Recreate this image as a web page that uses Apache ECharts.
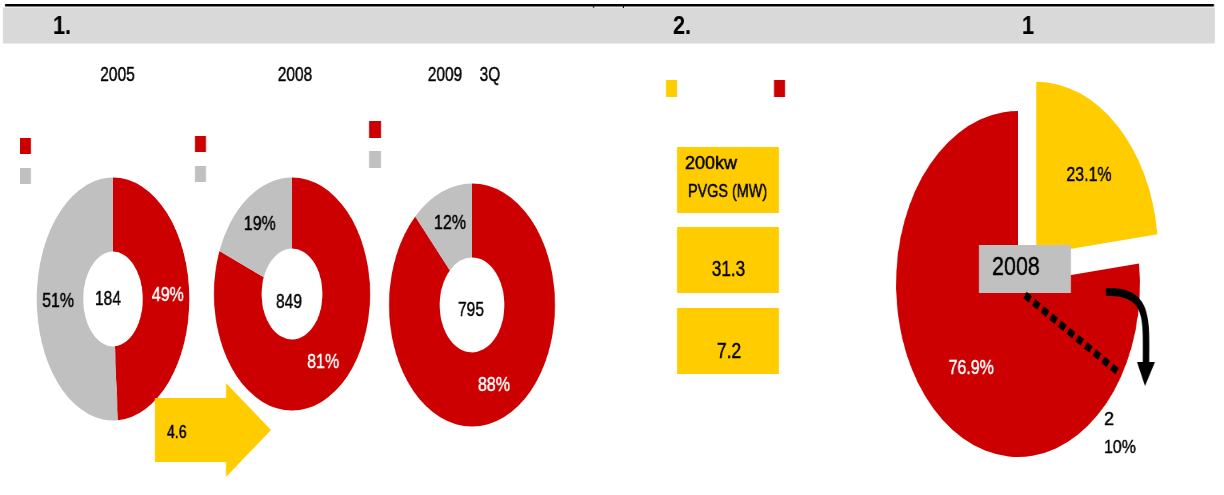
<!DOCTYPE html>
<html>
<head>
<meta charset="utf-8">
<script src="https://cdn.jsdelivr.net/npm/echarts@6/dist/echarts.min.js"></script>
<style>
html,body{margin:0;padding:0;background:#fff;}
#wrap{position:relative;width:1224px;height:495px;overflow:hidden;}
.pie{position:absolute;transform-origin:50% 50%;}
#main{position:absolute;left:0;top:0;height:495px;z-index:10;transform-origin:0 0;}
</style>
</head>
<body>
<div id="wrap">
  <div id="p0" class="pie"></div>
  <div id="p1" class="pie"></div>
  <div id="p2" class="pie"></div>
  <div id="p3" class="pie"></div>
  <div id="main"></div>
</div>
<script>
// ---------- data ----------
const headerLabels = ['1.', '2.', '1'];
const donutYears = ['2005', '2008', '2009', '3Q'];
const donutTotals = ['184', '849', '795'];
const redShare = [49, 81, 88];
const greyShare = [51, 19, 12];
const pieShares = [23.1, 76.9];           // yellow, red
const pieYear = '2008';
const arrowValue = '4.6';
const boxHeader = ['200kw', 'PVGS (MW)'];
const boxValues = ['31.3', '7.2'];
const pieNote = ['2', '10%'];

// ---------- style ----------
const RED = '#CC0000', GREY = '#C0C0C0', YEL = '#FFCC00';
const FONT = "'Liberation Sans', Arial, sans-serif";
const C = 0.8;                 // horizontal squeeze of the text/annotation layer
const X = function (x) { return x / C; };
const BOLDEN = 0.45;           // thin outline to match the heavier source glyphs

// geometry of the elliptical pies (center, vertical radius, horizontal squeeze)
const donutGeo = [
  {cx: 113, cy: 298.5, r: 121.5, s: 0.628},
  {cx: 291.5, cy: 293.5, r: 116.5, s: 0.67},
  {cx: 472, cy: 304.5, r: 121.5, s: 0.683}
];
const bigGeo = {cx: 1018, cy: 284, r: 173, s: 0.705};
const INNER = 0.39;

function placeDiv(id, g, D) {
  const el = document.getElementById(id);
  el.style.left = (g.cx - D / 2) + 'px';
  el.style.top = (g.cy - D / 2) + 'px';
  el.style.width = D + 'px';
  el.style.height = D + 'px';
  el.style.transform = 'scaleX(' + g.s + ')';
  return el;
}

function lbl(color) {
  return {color: color, textBorderColor: color, textBorderWidth: BOLDEN};
}
function donutData(i, transparent) {
  return [
    {name: 'red', value: redShare[i], itemStyle: {color: transparent ? 'rgba(0,0,0,0)' : RED}, label: lbl('#fff')},
    {name: 'grey', value: greyShare[i], itemStyle: {color: transparent ? 'rgba(0,0,0,0)' : GREY}, label: lbl('#000')}
  ];
}
function bigData(transparent) {
  return [
    {name: 'y', value: pieShares[0], selected: true, itemStyle: {color: transparent ? 'rgba(0,0,0,0)' : YEL}, label: lbl('#000')},
    {name: 'r', value: pieShares[1], itemStyle: {color: transparent ? 'rgba(0,0,0,0)' : RED}, label: lbl('#fff')}
  ];
}

// ---------- squeezed pie sectors (one instance per ellipse) ----------
donutGeo.forEach(function (g, i) {
  const chart = echarts.init(placeDiv('p' + i, g, 260));
  chart.setOption({
    animation: false,
    series: [{
      type: 'pie', silent: true, startAngle: 90, clockwise: true,
      center: ['50%', '50%'], radius: [g.r * INNER, g.r],
      label: {show: false}, labelLine: {show: false},
      data: donutData(i, false)
    }]
  });
});
(function () {
  const chart = echarts.init(placeDiv('p3', bigGeo, 470));
  chart.setOption({
    animation: false,
    series: [{
      type: 'pie', silent: true, startAngle: 90, clockwise: true,
      center: ['50%', '50%'], radius: [0, bigGeo.r],
      selectedMode: 'single', selectedOffset: 39,
      label: {show: false}, labelLine: {show: false},
      data: bigData(false)
    }]
  });
})();

// ---------- overlay layer (squeezed by C): labels + annotations ----------
function squeeze(g, adj) {
  const k = g.s / C;
  return function (p) {
    const lx = p.labelRect.x + p.labelRect.width / 2;
    const a = adj ? adj[p.dataIndex] : [0, 0];
    return {dx: (k - 1) * (lx - X(g.cx)) + k * a[0], dy: a[1]};
  };
}
const labelSeries = donutGeo.map(function (g, i) {
  return {
    type: 'pie', silent: true, startAngle: 90, clockwise: true,
    center: [X(g.cx), g.cy], radius: [g.r * INNER, g.r],
    label: {show: true, position: 'inside', fontSize: 20, fontFamily: FONT, formatter: '{c}%'},
    labelLine: {show: false},
    labelLayout: squeeze(g),
    data: donutData(i, true)
  };
});
labelSeries.push({
  type: 'pie', silent: true, startAngle: 90, clockwise: true,
  center: [X(bigGeo.cx), bigGeo.cy], radius: [0, bigGeo.r],
  selectedMode: 'single', selectedOffset: 39,
  label: {show: true, position: 'inside', fontSize: 20, fontFamily: FONT, formatter: '{c}%'},
  labelLine: {show: false},
  labelLayout: squeeze(bigGeo, [[12, -12], [-7, 18]]),
  data: bigData(true)
});

// text: x,y in screen px; e = wanted horizontal condensation on screen
function T(text, x, y, size, e, opt) {
  opt = opt || {};
  const fill = opt.fill || '#000';
  return {
    type: 'text', x: X(x), y: y, z: 20, scaleX: e / C,
    style: {
      text: text, fontSize: size, fontFamily: FONT,
      fontWeight: opt.bold ? 'bold' : 'normal',
      fill: fill, stroke: opt.bold ? null : fill, lineWidth: BOLDEN,
      textAlign: opt.align || 'left', textVerticalAlign: 'middle'
    }
  };
}
function R(x, y, w, h, fill, z) {
  return {type: 'rect', z: z || 5, shape: {x: X(x), y: y, width: w / C, height: h}, style: {fill: fill}};
}
function P(points, fill, z) {
  return {type: 'polygon', z: z || 5, shape: {points: points.map(function (p) { return [X(p[0]), p[1]]; })}, style: {fill: fill}};
}

const g = [];
// header
g.push(R(5, 4, 1209, 2.5, '#000'));
g.push(R(3, 7.5, 1212, 36, '#D9D9D9'));
g.push(R(593, 6, 1, 2, '#000'));
g.push(R(623, 6, 1, 2, '#000'));
g.push(T(headerLabels[0], 53, 27, 25, 0.87, {bold: true}));
g.push(T(headerLabels[1], 673, 27, 25, 0.87, {bold: true}));
g.push(T(headerLabels[2], 1022, 27, 25, 0.87, {bold: true}));

// donut titles
g.push(T(donutYears[0], 117.5, 75, 21, 0.74, {align: 'center'}));
g.push(T(donutYears[1], 295, 75, 21, 0.74, {align: 'center'}));
g.push(T(donutYears[2], 445, 75, 21, 0.74, {align: 'center'}));
g.push(T(donutYears[3], 490, 75, 21, 0.74, {align: 'center'}));

// donut totals in the holes
g.push(T(donutTotals[0], 108, 299, 21, 0.74, {align: 'center'}));
g.push(T(donutTotals[1], 289, 302, 21, 0.74, {align: 'center'}));
g.push(T(donutTotals[2], 471, 310, 21, 0.74, {align: 'center'}));

// donut legend squares (labels absent in the source)
g.push(R(20, 138, 11, 16, RED), R(20, 168, 11, 16, GREY));
g.push(R(195, 136, 11, 16, RED), R(195, 166, 11, 16, GREY));
g.push(R(369, 121, 12, 17, RED), R(369, 151, 12, 17, GREY));

// growth arrow
g.push(P([[155, 398], [226, 398], [226, 383], [271, 430], [226, 477], [226, 462], [155, 462]], YEL));
g.push(T(arrowValue, 167, 433, 18, 0.78));

// section 2 legend + boxes
g.push(R(666, 80, 11, 17, YEL), R(774, 80, 11, 17, RED));
g.push(R(677, 147, 102, 66, YEL), R(677, 227, 102, 66, YEL), R(677, 308, 102, 66, YEL));
g.push(T(boxHeader[0], 685, 164, 18, 1.0));
g.push(T(boxHeader[1], 688, 192, 18, 0.8));
g.push(T(boxValues[0], 728.5, 270, 22, 0.78, {align: 'center'}));
g.push(T(boxValues[1], 729, 352, 22, 0.8, {align: 'center'}));

// big pie annotations
g.push(R(979, 245, 92, 48, GREY, 8));
g.push(T(pieYear, 992, 268, 25, 0.86));
g.push({type: 'line', z: 8, shape: {x1: X(1025), y1: 295, x2: X(1118), y2: 372},
        style: {stroke: '#000', lineWidth: 7.5, lineDash: [8, 5]}});
g.push({type: 'bezierCurve', z: 8, shape: {x1: X(1106), y1: 292, cpx1: X(1150), cpy1: 290, cpx2: X(1146), cpy2: 320, x2: X(1146), y2: 363},
        style: {stroke: '#000', lineWidth: 8, fill: null}});
g.push(P([[1137, 362], [1155, 362], [1145, 386]], '#000', 8));
g.push(T(pieNote[0], 1104, 420, 19, 0.95));
g.push(T(pieNote[1], 1104, 448, 19, 0.84));

const mainEl = document.getElementById('main');
mainEl.style.width = X(1224) + 'px';
mainEl.style.transform = 'scaleX(' + C + ')';
const main = echarts.init(mainEl);
main.setOption({animation: false, backgroundColor: 'transparent', graphic: {elements: g}, series: labelSeries});
</script>
</body>
</html>
